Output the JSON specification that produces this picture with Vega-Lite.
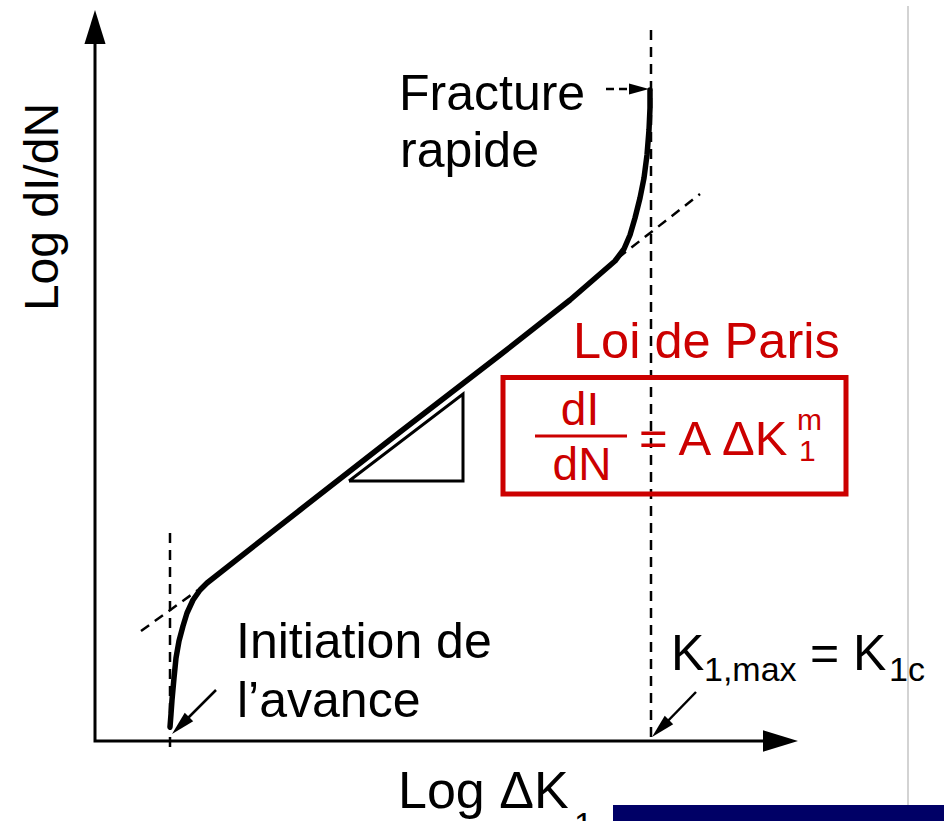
{
  "$schema": "https://vega.github.io/schema/vega-lite/v6.json",
  "width": 944,
  "height": 821,
  "autosize": {"type": "none"},
  "padding": 0,
  "background": "white",
  "config": {"view": {"stroke": null}, "text": {"font": "Liberation Sans"}},
  "datasets": {
    "curve": [
      {"i": 0, "x": 170, "y": 727}, {"i": 1, "x": 171, "y": 714}, {"i": 2, "x": 172, "y": 700},
      {"i": 3, "x": 174, "y": 678}, {"i": 4, "x": 176, "y": 658}, {"i": 5, "x": 179, "y": 641},
      {"i": 6, "x": 183, "y": 626}, {"i": 7, "x": 187, "y": 613}, {"i": 8, "x": 193, "y": 600},
      {"i": 9, "x": 200, "y": 590}, {"i": 10, "x": 207, "y": 583}, {"i": 11, "x": 300, "y": 510},
      {"i": 12, "x": 400, "y": 432}, {"i": 13, "x": 500, "y": 355}, {"i": 14, "x": 570, "y": 300},
      {"i": 15, "x": 600, "y": 274}, {"i": 16, "x": 615, "y": 261}, {"i": 17, "x": 624, "y": 249},
      {"i": 18, "x": 630, "y": 235}, {"i": 19, "x": 635, "y": 218}, {"i": 20, "x": 640, "y": 198},
      {"i": 21, "x": 644, "y": 178}, {"i": 22, "x": 647, "y": 155}, {"i": 23, "x": 649, "y": 130},
      {"i": 24, "x": 650, "y": 108}, {"i": 25, "x": 650, "y": 90}
    ],
    "dashed": [
      {"g": "a", "i": 0, "x": 170, "y": 533}, {"g": "a", "i": 1, "x": 170, "y": 748},
      {"g": "b", "i": 0, "x": 141, "y": 631}, {"g": "b", "i": 1, "x": 198, "y": 590},
      {"g": "c", "i": 0, "x": 651, "y": 30}, {"g": "c", "i": 1, "x": 651, "y": 742},
      {"g": "d", "i": 0, "x": 618, "y": 258}, {"g": "d", "i": 1, "x": 700, "y": 194}
    ],
    "axes": [
      {"i": 0, "x": 95, "y": 40}, {"i": 1, "x": 95, "y": 741}, {"i": 2, "x": 766, "y": 741}
    ],
    "triangle": [
      {"i": 0, "x": 349, "y": 481}, {"i": 1, "x": 463, "y": 481}, {"i": 2, "x": 463, "y": 394}, {"i": 3, "x": 349, "y": 481}
    ],
    "shafts": [
      {"g": "init", "i": 0, "x": 216, "y": 690}, {"g": "init", "i": 1, "x": 182, "y": 724},
      {"g": "kmax", "i": 0, "x": 696, "y": 692}, {"g": "kmax", "i": 1, "x": 662, "y": 727}
    ],
    "fshaft": [
      {"i": 0, "x": 606, "y": 89}, {"i": 1, "x": 636, "y": 89}
    ],
    "headUp": [{"x": 95, "y": 10}],
    "headRight": [{"x": 798, "y": 741}],
    "headSmallRight": [{"x": 649, "y": 89}],
    "headDiag": [{"x": 172, "y": 734}, {"x": 652, "y": 737}],
    "redbox": [{"x": 503, "y": 377.5, "x2": 846, "y2": 494}],
    "navy": [{"x": 613, "y": 805, "x2": 944, "y2": 821}],
    "grey": [{"x": 908, "y": 6, "y2": 805}],
    "fracbar": [{"x": 535, "x2": 627, "y": 436}],
    "black50": [
      {"t": "Fracture", "x": 399, "y": 110},
      {"t": "rapide", "x": 400, "y": 167},
      {"t": "Initiation de", "x": 236, "y": 658},
      {"t": "l’avance", "x": 237, "y": 717},
      {"t": "K", "x": 671, "y": 670},
      {"t": "= K", "x": 810, "y": 670}
    ],
    "black34": [
      {"t": "1,max", "x": 704, "y": 681},
      {"t": "1c", "x": 889, "y": 681}
    ],
    "bottomLabel": [{"t": "Log ΔK", "x": 398, "y": 808}],
    "bottomSub": [{"t": "1", "x": 574, "y": 836}],
    "ylabel": [{"t": "Log dI/dN", "x": 58, "y": 207}],
    "redTitle": [{"t": "Loi de Paris", "x": 573, "y": 358}],
    "redFrac": [
      {"t": "dI", "x": 580, "y": 425},
      {"t": "dN", "x": 582, "y": 480}
    ],
    "redEq": [{"t": "= A ΔK", "x": 639, "y": 455}],
    "redScript": [
      {"t": "m", "x": 797, "y": 430},
      {"t": "1", "x": 799, "y": 461}
    ]
  },
  "encoding": {
    "x": {"field": "x", "type": "quantitative", "scale": {"domain": [0, 944], "nice": false, "zero": false}, "axis": null},
    "y": {"field": "y", "type": "quantitative", "scale": {"domain": [0, 821], "nice": false, "zero": false, "reverse": true}, "axis": null}
  },
  "layer": [
    {"data": {"name": "navy"}, "mark": {"type": "rect", "color": "#000066"},
     "encoding": {"x2": {"field": "x2"}, "y2": {"field": "y2"}}},
    {"data": {"name": "grey"}, "mark": {"type": "rule", "color": "#c4c4c4", "strokeWidth": 1.5},
     "encoding": {"y2": {"field": "y2"}}},
    {"data": {"name": "dashed"}, "mark": {"type": "line", "color": "black", "strokeWidth": 2.5, "strokeDash": [10, 7], "strokeCap": "butt"},
     "encoding": {"detail": {"field": "g"}, "order": {"field": "i"}}},
    {"data": {"name": "axes"}, "mark": {"type": "line", "color": "black", "strokeWidth": 3, "strokeJoin": "miter"},
     "encoding": {"order": {"field": "i"}}},
    {"data": {"name": "triangle"}, "mark": {"type": "line", "color": "black", "strokeWidth": 3, "strokeJoin": "miter"},
     "encoding": {"order": {"field": "i"}}},
    {"data": {"name": "curve"}, "mark": {"type": "line", "color": "black", "strokeWidth": 5.5, "strokeJoin": "round", "strokeCap": "round"},
     "encoding": {"order": {"field": "i"}}},
    {"data": {"name": "shafts"}, "mark": {"type": "line", "color": "black", "strokeWidth": 2.5},
     "encoding": {"detail": {"field": "g"}, "order": {"field": "i"}}},
    {"data": {"name": "fshaft"}, "mark": {"type": "line", "color": "black", "strokeWidth": 2.5, "strokeDash": [8, 5]},
     "encoding": {"order": {"field": "i"}}},
    {"data": {"name": "headUp"}, "mark": {"type": "point", "shape": "M0,0L0.62,2L-0.62,2Z", "size": 1156, "filled": true, "color": "black", "opacity": 1}},
    {"data": {"name": "headRight"}, "mark": {"type": "point", "shape": "M0,0L-2,-0.62L-2,0.62Z", "size": 1225, "filled": true, "color": "black", "opacity": 1}},
    {"data": {"name": "headSmallRight"}, "mark": {"type": "point", "shape": "M0,0L-2,-0.55L-2,0.55Z", "size": 400, "filled": true, "color": "black", "opacity": 1}},
    {"data": {"name": "headDiag"}, "mark": {"type": "point", "shape": "M0,0L1.768,-1.061L1.061,-1.768Z", "size": 576, "filled": true, "color": "black", "opacity": 1}},
    {"data": {"name": "redbox"}, "mark": {"type": "rect", "fill": null, "fillOpacity": 0, "stroke": "#cc0000", "strokeWidth": 5},
     "encoding": {"x2": {"field": "x2"}, "y2": {"field": "y2"}}},
    {"data": {"name": "fracbar"}, "mark": {"type": "rule", "color": "#cc0000", "strokeWidth": 3},
     "encoding": {"x2": {"field": "x2"}}},
    {"data": {"name": "black50"}, "mark": {"type": "text", "fontSize": 50, "align": "left", "baseline": "alphabetic", "color": "black"},
     "encoding": {"text": {"field": "t"}}},
    {"data": {"name": "black34"}, "mark": {"type": "text", "fontSize": 34, "align": "left", "baseline": "alphabetic", "color": "black"},
     "encoding": {"text": {"field": "t"}}},
    {"data": {"name": "bottomLabel"}, "mark": {"type": "text", "fontSize": 52, "align": "left", "baseline": "alphabetic", "color": "black"},
     "encoding": {"text": {"field": "t"}}},
    {"data": {"name": "bottomSub"}, "mark": {"type": "text", "fontSize": 34, "align": "left", "baseline": "alphabetic", "color": "black"},
     "encoding": {"text": {"field": "t"}}},
    {"data": {"name": "ylabel"}, "mark": {"type": "text", "fontSize": 48, "align": "center", "baseline": "alphabetic", "angle": 270, "color": "black"},
     "encoding": {"text": {"field": "t"}}},
    {"data": {"name": "redTitle"}, "mark": {"type": "text", "fontSize": 50.5, "align": "left", "baseline": "alphabetic", "color": "#cc0000"},
     "encoding": {"text": {"field": "t"}}},
    {"data": {"name": "redFrac"}, "mark": {"type": "text", "fontSize": 46, "align": "center", "baseline": "alphabetic", "color": "#cc0000"},
     "encoding": {"text": {"field": "t"}}},
    {"data": {"name": "redEq"}, "mark": {"type": "text", "fontSize": 49, "align": "left", "baseline": "alphabetic", "color": "#cc0000"},
     "encoding": {"text": {"field": "t"}}},
    {"data": {"name": "redScript"}, "mark": {"type": "text", "fontSize": 30, "align": "left", "baseline": "alphabetic", "color": "#cc0000"},
     "encoding": {"text": {"field": "t"}}}
  ]
}
